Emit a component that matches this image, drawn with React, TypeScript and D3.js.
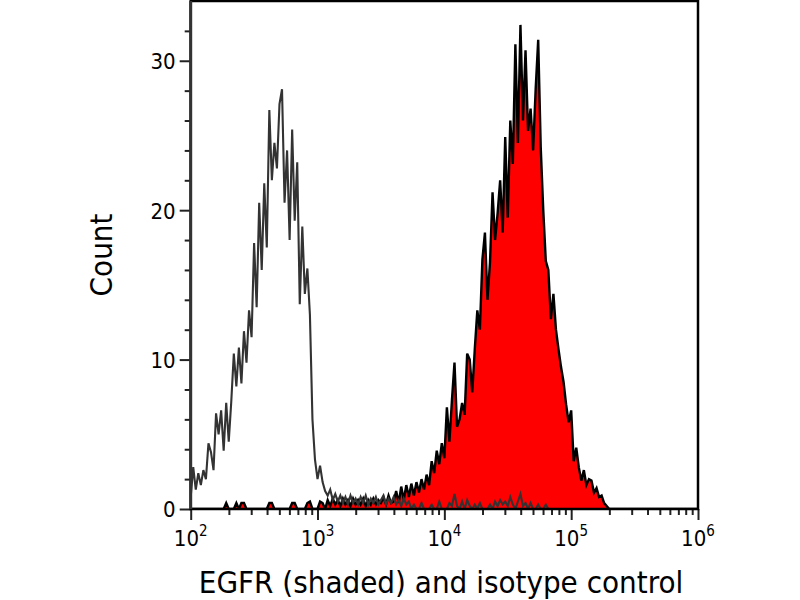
import { useEffect, useRef } from "react";
import * as d3 from "d3";

// histogram channels: 50 per decade starting at 10^2
const firstDecade = 2;
const channelsPerDecade = 50;

const majorTicks = [1e2, 1e3, 1e4, 1e5, 1e6];
const tickExponents = ["2", "3", "4", "5", "6"];
const yMajorTicks = [0, 10, 20, 30];
const yMinorTicks = [2, 4, 6, 8, 12, 14, 16, 18, 22, 24, 26, 28, 32];

// isotype control (grey outline)
const isotypeCounts = [
  0.8, 2.8, 1.3, 2.4, 1.6, 2.6, 2.0, 4.4, 3.8, 2.6,
  6.4, 5.0, 6.6, 3.9, 7.1, 4.5, 7.2, 10.4, 8.2, 10.8,
  8.4, 11.9, 9.8, 13.3, 11.5, 17.8, 13.5, 20.5, 16.0, 21.8,
  17.5, 26.7, 22.0, 24.5, 22.8, 27.1, 28.1, 20.5, 24.0, 18.0,
  25.4, 19.3, 23.2, 13.7, 18.9, 14.4, 16.1, 13.0, 6.0, 3.3,
  2.0, 2.9, 1.8, 1.2, 0.9, 1.3, 0.6, 1.0, 0.5, 0.9,
  0.4, 0.8, 0.3, 0.9, 0.4, 0.7, 0.3, 0.8, 0.4, 0.9,
  0.3, 0.7, 0.4, 0.8, 0.3, 0.6, 0.9, 0.3, 0.7, 0.4,
  0.8, 0.3, 0.6, 0.2, 0.7, 0.3, 0.5, 0, 0.3, 0,
  0, 0.4, 0, 0, 0, 0.3, 0, 0, 0.5, 0,
  0, 0, 0.4, 0.2, 1.0, 0.2, 0, 0.5, 0, 0.6,
  0.2, 0, 0.3, 0, 0.4, 0, 0, 0, 0.3, 0,
  0.5, 0.2, 0.6, 0.3, 0.5, 0.2, 0.8, 0.3, 0, 0.5,
  1.0, 0.2, 0.4, 0, 0.4, 0, 0, 0.3, 0, 0,
  0.3, 0, 0, 0, 0, 0, 0, 0, 0, 0,
  0, 0, 0, 0, 0, 0, 0, 0, 0, 0,
  0, 0, 0, 0, 0, 0, 0, 0, 0, 0,
  0, 0, 0, 0, 0, 0, 0, 0, 0, 0,
  0, 0, 0, 0, 0, 0, 0, 0, 0, 0,
  0, 0, 0, 0, 0, 0, 0, 0, 0, 0,
  0,
];

// EGFR stained (red, shaded)
const egfrCounts = [
  0, 0, 0, 0, 0, 0, 0, 0, 0, 0,
  0, 0, 0, 0, 0.4, 0, 0, 0, 0.4, 0,
  0.4, 0.4, 0, 0, 0, 0, 0, 0, 0, 0,
  0, 0.4, 0.4, 0, 0, 0, 0, 0, 0, 0,
  0.4, 0.4, 0, 0, 0, 0, 0.4, 0.5, 0, 0,
  0, 0.5, 0.4, 0, 0.6, 0.2, 0.7, 0.3, 0.6, 0.2,
  0.7, 0.3, 0.6, 0.2, 0.7, 0.3, 0.6, 0.3, 0.7, 0.2,
  0.6, 0.3, 0.7, 0.3, 0.6, 0.4, 0.8, 0.3, 0.9, 0.4,
  0.5, 1.2, 0.4, 1.5, 0.6, 1.6, 0.8, 1.7, 0.9, 1.8,
  1.1, 2.0, 1.3, 2.3, 1.6, 3.2, 2.4, 3.9, 3.0, 4.4,
  3.4, 6.8, 4.5, 7.3, 9.8, 5.5, 6.0, 7.1, 6.3, 10.4,
  10.0, 7.8, 10.7, 13.3, 12.0, 16.7, 18.5, 14.0, 16.5, 21.2,
  18.0, 19.8, 22.0, 18.5, 24.9, 19.5, 26.0, 23.1, 31.1, 24.5,
  32.4, 26.0, 30.7, 25.3, 26.8, 24.0, 28.1, 31.4, 24.2, 20.0,
  16.6, 16.0, 12.7, 14.4, 12.0, 10.7, 9.5, 8.5, 7.0, 5.8,
  6.6, 3.2, 4.1, 2.8, 1.9, 2.6, 1.6, 2.0, 1.9, 1.1,
  1.4, 0.8, 0.9, 0.4, 0.2, 0, 0, 0, 0, 0,
  0, 0, 0, 0, 0, 0, 0, 0, 0, 0,
  0, 0, 0, 0, 0, 0, 0, 0, 0, 0,
  0, 0, 0, 0, 0, 0, 0, 0, 0, 0,
  0,
];

const FONT = "'DejaVu Sans Condensed', 'DejaVu Sans', sans-serif";

const App = () => {
  const svgRef = useRef<SVGSVGElement | null>(null);

  useEffect(() => {
    if (!svgRef.current) return;

    const width = 800;
    const height = 600;
    const left = 190.7;
    const right = 698;
    const top = 1;
    const bottom = 509;

    const svg = d3.select(svgRef.current);
    svg.selectAll("*").remove();
    svg.attr("width", width).attr("height", height);

    svg.append("rect").attr("width", width).attr("height", height).attr("fill", "#fff");

    const xScale = d3.scaleLog().domain([1e2, 1e6]).range([left, right]);
    const yScale = d3.scaleLinear().domain([0, 34]).range([bottom, top]);

    const channelValue = (i: number) => Math.pow(10, firstDecade + i / channelsPerDecade);

    svg
      .append("clipPath")
      .attr("id", "plot-clip")
      .append("rect")
      .attr("x", left)
      .attr("y", top)
      .attr("width", right - left)
      .attr("height", bottom - top);

    const plot = svg.append("g").attr("clip-path", "url(#plot-clip)");

    const area = d3
      .area<number>()
      .x((_d, i) => xScale(channelValue(i)))
      .y0(yScale(0))
      .y1((d) => yScale(d));

    const line = d3
      .line<number>()
      .x((_d, i) => xScale(channelValue(i)))
      .y((d) => yScale(d));

    plot.append("path").datum(egfrCounts).attr("d", area).attr("fill", "#ff0000");
    plot
      .append("path")
      .datum(egfrCounts)
      .attr("d", line)
      .attr("fill", "none")
      .attr("stroke", "#000")
      .attr("stroke-width", 2.4)
      .attr("stroke-linejoin", "miter");
    plot
      .append("path")
      .datum(isotypeCounts)
      .attr("d", line)
      .attr("fill", "none")
      .attr("stroke", "#333")
      .attr("stroke-width", 2.1);

    // x axis ticks
    const minorX: number[] = [];
    for (let e = 2; e < 6; e++) {
      for (let m = 2; m < 10; m++) minorX.push(m * Math.pow(10, e));
    }

    const styleTicks = (g: d3.Selection<SVGGElement, unknown, null, undefined>) => {
      g.select(".domain").remove();
      g.selectAll(".tick line").attr("stroke", "#222").attr("stroke-width", 2);
      g.selectAll(".tick text").remove();
    };

    svg
      .append("g")
      .attr("transform", `translate(0,${bottom})`)
      .call(d3.axisBottom(xScale).tickValues(majorTicks).tickSize(11).tickFormat(() => ""))
      .call(styleTicks);
    svg
      .append("g")
      .attr("transform", `translate(0,${bottom})`)
      .call(d3.axisBottom(xScale).tickValues(minorX).tickSize(6).tickFormat(() => ""))
      .call(styleTicks);

    // y axis ticks
    svg
      .append("g")
      .attr("transform", `translate(${left},0)`)
      .call(d3.axisLeft(yScale).tickValues(yMajorTicks).tickSize(11))
      .call((g) => {
        g.select(".domain").remove();
        g.selectAll(".tick line").attr("stroke", "#222").attr("stroke-width", 2);
        g.selectAll(".tick text")
          .attr("x", -15)
          .attr("dy", "0.36em")
          .attr("fill", "#000")
          .attr("font-family", FONT)
          .attr("font-size", 22);
      });
    svg
      .append("g")
      .attr("transform", `translate(${left},0)`)
      .call(d3.axisLeft(yScale).tickValues(yMinorTicks).tickSize(6).tickFormat(() => ""))
      .call(styleTicks);

    // x tick labels with superscripts
    majorTicks.forEach((v, i) => {
      const t = svg
        .append("text")
        .attr("x", xScale(v))
        .attr("y", 546)
        .attr("text-anchor", "middle")
        .attr("font-family", FONT)
        .attr("font-size", 22)
        .attr("fill", "#000");
      t.append("tspan").text("10");
      t.append("tspan").attr("dy", -10).attr("font-size", 15).text(tickExponents[i]);
    });

    // frame
    svg
      .append("rect")
      .attr("x", left)
      .attr("y", top)
      .attr("width", right - left)
      .attr("height", bottom - top)
      .attr("fill", "none")
      .attr("stroke", "#000")
      .attr("stroke-width", 2.5);
    svg
      .append("line")
      .attr("x1", left)
      .attr("x2", left)
      .attr("y1", top)
      .attr("y2", bottom)
      .attr("stroke", "#333")
      .attr("stroke-width", 3);

    // axis titles
    svg
      .append("text")
      .attr("x", 441)
      .attr("y", 593)
      .attr("text-anchor", "middle")
      .attr("font-family", FONT)
      .attr("font-size", 31)
      .attr("fill", "#000")
      .text("EGFR (shaded) and isotype control");
    svg
      .append("text")
      .attr("transform", `translate(112,${(top + bottom) / 2}) rotate(-90)`)
      .attr("text-anchor", "middle")
      .attr("font-family", FONT)
      .attr("font-size", 31)
      .attr("fill", "#000")
      .text("Count");
  }, []);

  return (
    <div style={{ position: "absolute", left: 0, top: 0 }}>
      <svg ref={svgRef} style={{ display: "block" }} />
    </div>
  );
};

export default App;
